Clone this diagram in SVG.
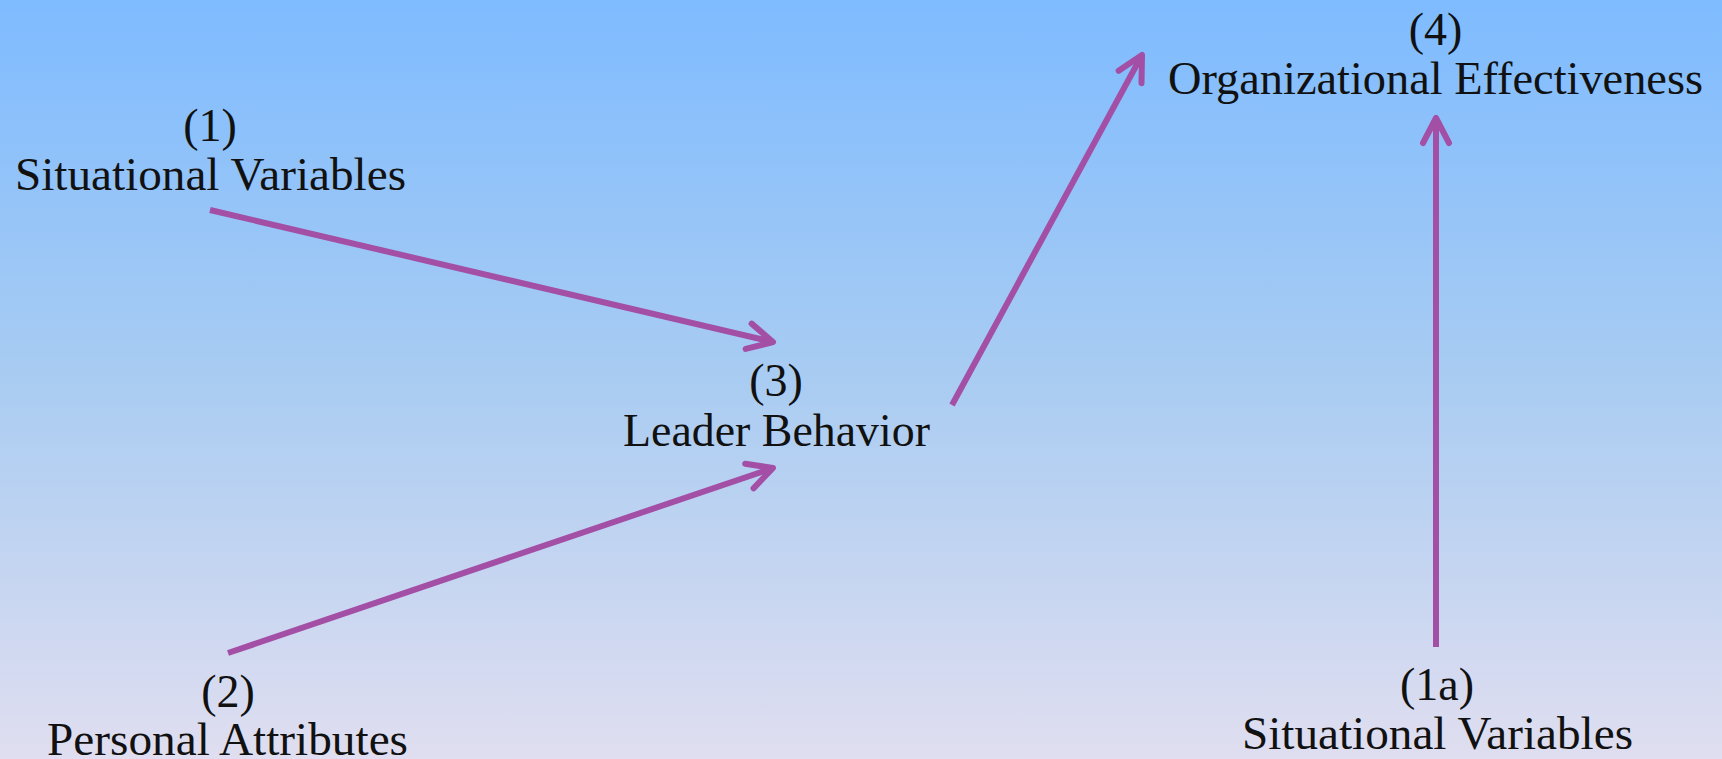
<svg xmlns="http://www.w3.org/2000/svg" width="1722" height="759" viewBox="0 0 1722 759">
  <defs>
    <linearGradient id="bg" x1="0" y1="0" x2="0" y2="1">
      <stop offset="0" stop-color="#7EBBFF"/>
      <stop offset="0.5" stop-color="#A9CCF2"/>
      <stop offset="1" stop-color="#E0DEF0"/>
    </linearGradient>
    <marker id="arr" markerUnits="userSpaceOnUse" viewBox="-32 -20 40 40" refX="0" refY="0" markerWidth="40" markerHeight="40" orient="auto" overflow="visible">
      <path d="M-25,-13 L0,0 L-25,13" fill="none" stroke="#A34FA5" stroke-width="6" stroke-linecap="round" stroke-linejoin="round"/>
    </marker>
    <style>
      .t { font-family: "Liberation Serif", "Times New Roman", serif; font-size: 46px; fill: #111; text-anchor: middle; }
      .c { stroke: #A34FA5; stroke-width: 6; fill: none; stroke-linecap: butt; marker-end: url(#arr); }
    </style>
  </defs>
  <rect x="0" y="0" width="1722" height="759" fill="url(#bg)"/>
  <g id="connectors">
    <line class="c" x1="210" y1="210" x2="773" y2="342"/>
    <line class="c" x1="228" y1="653" x2="773" y2="468"/>
    <line class="c" x1="952" y1="405" x2="1142" y2="55"/>
    <line class="c" x1="1436" y1="647" x2="1436" y2="118"/>
  </g>
  <g id="node1">
    <text class="t" x="210" y="141">(1)</text>
    <text class="t" x="210.5" y="190" textLength="391" lengthAdjust="spacingAndGlyphs">Situational Variables</text>
  </g>
  <g id="node2">
    <text class="t" x="228" y="707">(2)</text>
    <text class="t" x="227.5" y="755" textLength="361" lengthAdjust="spacingAndGlyphs">Personal Attributes</text>
  </g>
  <g id="node3">
    <text class="t" x="776" y="396">(3)</text>
    <text class="t" x="776.5" y="446" textLength="307" lengthAdjust="spacingAndGlyphs">Leader Behavior</text>
  </g>
  <g id="node4">
    <text class="t" x="1435.5" y="45">(4)</text>
    <text class="t" x="1435.5" y="94" textLength="535" lengthAdjust="spacingAndGlyphs">Organizational Effectiveness</text>
  </g>
  <g id="node1a">
    <text class="t" x="1437" y="700">(1a)</text>
    <text class="t" x="1437.5" y="749" textLength="391" lengthAdjust="spacingAndGlyphs">Situational Variables</text>
  </g>
</svg>
